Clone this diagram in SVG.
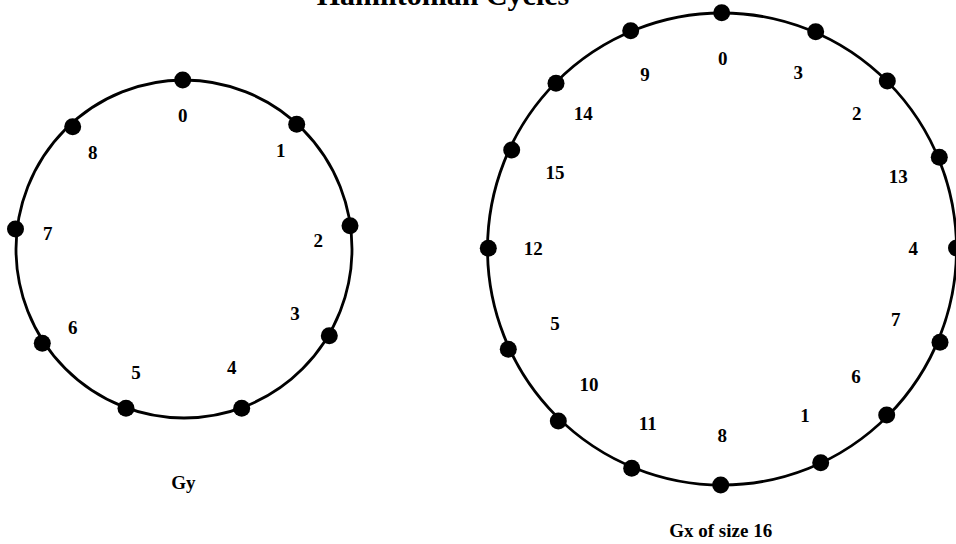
<svg xmlns="http://www.w3.org/2000/svg" width="956" height="544" viewBox="0 0 956 544">
<style>
.ring{fill:none;stroke:#000;stroke-width:2.8}
.dot{fill:#000}
.lbl{font-family:"Liberation Serif","Times New Roman",serif;font-weight:bold;font-size:19px;text-anchor:middle;fill:#000}
.title{font-family:"Liberation Serif","Times New Roman",serif;font-weight:bold;font-size:30px;text-anchor:middle;fill:#000}
</style>
<rect width="956" height="544" fill="#fff"/>
<text class="title" x="443" y="5">Hamiltonian Cycles</text>
<g id="connectors">
<ellipse class="ring" cx="184" cy="249" rx="168" ry="169"/>
<ellipse class="ring" cx="722" cy="249" rx="234.5" ry="236"/>
</g>
<g id="gy">
<g id="gy-0"><circle class="dot" cx="182.7" cy="80" r="8.5"/><text class="lbl" x="182.7" y="121.5">0</text></g>
<g id="gy-1"><circle class="dot" cx="296.7" cy="124.3" r="8.5"/><text class="lbl" x="280.7" y="156.5">1</text></g>
<g id="gy-2"><circle class="dot" cx="350" cy="225.7" r="8.5"/><text class="lbl" x="318.3" y="246.5">2</text></g>
<g id="gy-3"><circle class="dot" cx="329.3" cy="335.7" r="8.5"/><text class="lbl" x="295" y="320">3</text></g>
<g id="gy-4"><circle class="dot" cx="241.7" cy="408.3" r="8.5"/><text class="lbl" x="231.7" y="373.5">4</text></g>
<g id="gy-5"><circle class="dot" cx="126" cy="408.3" r="8.5"/><text class="lbl" x="136" y="378.5">5</text></g>
<g id="gy-6"><circle class="dot" cx="42.3" cy="343.3" r="8.5"/><text class="lbl" x="72.7" y="333.5">6</text></g>
<g id="gy-7"><circle class="dot" cx="15.5" cy="229" r="8.5"/><text class="lbl" x="47.7" y="240">7</text></g>
<g id="gy-8"><circle class="dot" cx="72.7" cy="126.7" r="8.5"/><text class="lbl" x="92.7" y="158.5">8</text></g>
<text class="lbl" x="183.3" y="488.5">Gy</text>
</g>
<g id="gx">
<g id="gx-0"><circle class="dot" cx="721.7" cy="12.7" r="8.5"/><text class="lbl" x="722.7" y="65">0</text></g>
<g id="gx-3"><circle class="dot" cx="815.7" cy="31.7" r="8.5"/><text class="lbl" x="798.3" y="78.5">3</text></g>
<g id="gx-2"><circle class="dot" cx="887.3" cy="81" r="8.5"/><text class="lbl" x="856.7" y="119.5">2</text></g>
<g id="gx-13"><circle class="dot" cx="939.3" cy="157.3" r="8.5"/><text class="lbl" x="898.3" y="183">13</text></g>
<g id="gx-4"><circle class="dot" cx="956.5" cy="248" r="8.5"/><text class="lbl" x="913.3" y="255">4</text></g>
<g id="gx-7"><circle class="dot" cx="940" cy="342.3" r="8.5"/><text class="lbl" x="895.7" y="326">7</text></g>
<g id="gx-6"><circle class="dot" cx="886.7" cy="415" r="8.5"/><text class="lbl" x="856" y="382.5">6</text></g>
<g id="gx-1"><circle class="dot" cx="820.7" cy="462.7" r="8.5"/><text class="lbl" x="805" y="421.5">1</text></g>
<g id="gx-8"><circle class="dot" cx="720.7" cy="485" r="8.5"/><text class="lbl" x="722.3" y="441.5">8</text></g>
<g id="gx-11"><circle class="dot" cx="631.7" cy="468.3" r="8.5"/><text class="lbl" x="647.7" y="430">11</text></g>
<g id="gx-10"><circle class="dot" cx="558.3" cy="421" r="8.5"/><text class="lbl" x="589" y="391">10</text></g>
<g id="gx-5"><circle class="dot" cx="508.3" cy="349.3" r="8.5"/><text class="lbl" x="555" y="330">5</text></g>
<g id="gx-12"><circle class="dot" cx="488.3" cy="248.3" r="8.5"/><text class="lbl" x="533.3" y="255">12</text></g>
<g id="gx-15"><circle class="dot" cx="511.7" cy="150" r="8.5"/><text class="lbl" x="555" y="178.5">15</text></g>
<g id="gx-14"><circle class="dot" cx="556" cy="83.3" r="8.5"/><text class="lbl" x="583.3" y="120">14</text></g>
<g id="gx-9"><circle class="dot" cx="630.7" cy="30.7" r="8.5"/><text class="lbl" x="645" y="80.5">9</text></g>
<text class="lbl" x="720.7" y="536.5">Gx of size 16</text>
</g>
</svg>
